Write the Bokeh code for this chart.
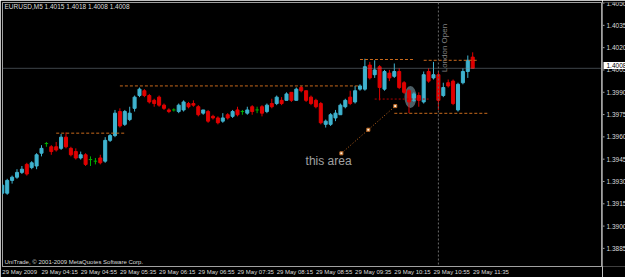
import math
from bokeh.plotting import figure
from bokeh.layouts import row
from bokeh.models import Range1d, FixedTicker, Span, Label, ColumnDataSource
from bokeh.core.properties import value
from bokeh.embed import file_html
from bokeh.resources import INLINE

# ---- data: EURUSD M5, bar 0 = 03:35 ----
opens = [1.3930, 1.3930, 1.3938, 1.3940, 1.3943, 1.3948, 1.3946, 1.3947, 1.3955, 1.3961,
         1.3959, 1.3959, 1.3958, 1.3965, 1.3958, 1.3956, 1.3952, 1.3954, 1.3951, 1.3950,
         1.3952, 1.3950, 1.3963, 1.3966, 1.3981, 1.3973, 1.3976, 1.3983, 1.3991, 1.3994,
         1.3991, 1.3988, 1.3990, 1.3985, 1.3982, 1.3982, 1.3981, 1.3982, 1.3986, 1.3986,
         1.3984, 1.3980, 1.3981, 1.3978, 1.3977, 1.3975, 1.3979, 1.3978, 1.3982, 1.3981,
         1.3980, 1.3984, 1.3982, 1.3984, 1.3981, 1.3986, 1.3986, 1.3988, 1.3988, 1.3993,
         1.3988, 1.3996, 1.3994, 1.3990, 1.3988, 1.3986, 1.3973, 1.3973, 1.3977, 1.3979,
         1.3984, 1.3990, 1.3987, 1.3995, 1.3995, 1.4010, 1.4004, 1.4009, 1.3995, 1.4005,
         1.4003, 1.4006, 1.3999, 1.3994, 1.3988, 1.3991, 1.3987, 1.4006, 1.4002, 1.4004,
         1.3991, 1.3999, 1.4000, 1.3982, 1.3999, 1.4006, 1.4015]
highs = [1.3936, 1.3939, 1.3941, 1.3945, 1.3947, 1.3949, 1.3950, 1.3955, 1.3960, 1.3962,
         1.3960, 1.3962, 1.3967, 1.3968, 1.3959, 1.3958, 1.3956, 1.3955, 1.3953, 1.3952,
         1.3954, 1.3965, 1.3967, 1.3982, 1.3983, 1.3982, 1.3984, 1.3991, 1.3996, 1.3995,
         1.3992, 1.3989, 1.3991, 1.3986, 1.3983, 1.3983, 1.3986, 1.3988, 1.3987, 1.3988,
         1.3985, 1.3982, 1.3982, 1.3979, 1.3978, 1.3980, 1.3980, 1.3982, 1.3984, 1.3982,
         1.3984, 1.3985, 1.3984, 1.3985, 1.3986, 1.3989, 1.3991, 1.3990, 1.3993, 1.3993,
         1.3996, 1.3997, 1.3994, 1.3991, 1.3989, 1.3987, 1.3976, 1.3980, 1.3982, 1.3986,
         1.3989, 1.3994, 1.3997, 1.3998, 1.4014, 1.4012, 1.4013, 1.4010, 1.4007, 1.4007,
         1.4011, 1.4008, 1.4000, 1.3995, 1.3993, 1.3993, 1.4006, 1.4008, 1.4012, 1.4006,
         1.3999, 1.4001, 1.4001, 1.3999, 1.4008, 1.4016, 1.4018]
lows = [1.3929, 1.3929, 1.3936, 1.3939, 1.3942, 1.3941, 1.3945, 1.3945, 1.3953, 1.3959,
        1.3954, 1.3956, 1.3957, 1.3958, 1.3953, 1.3951, 1.3951, 1.3947, 1.3947, 1.3948,
        1.3948, 1.3949, 1.3962, 1.3965, 1.3971, 1.3972, 1.3975, 1.3981, 1.3990, 1.3990,
        1.3986, 1.3984, 1.3984, 1.3982, 1.3980, 1.3981, 1.3980, 1.3981, 1.3983, 1.3984,
        1.3978, 1.3979, 1.3974, 1.3976, 1.3973, 1.3974, 1.3976, 1.3977, 1.3978, 1.3979,
        1.3979, 1.3979, 1.3980, 1.3978, 1.3980, 1.3983, 1.3985, 1.3985, 1.3988, 1.3987,
        1.3988, 1.3993, 1.3987, 1.3985, 1.3983, 1.3973, 1.3971, 1.3972, 1.3975, 1.3979,
        1.3983, 1.3985, 1.3986, 1.3994, 1.3994, 1.4001, 1.4002, 1.3988, 1.3994, 1.4000,
        1.4002, 1.3995, 1.3992, 1.3980, 1.3987, 1.3984, 1.3986, 1.3999, 1.4001, 1.3982,
        1.3990, 1.3996, 1.3985, 1.3981, 1.3998, 1.4002, 1.4008]
closes = [1.3935, 1.3938, 1.3940, 1.3943, 1.3945, 1.3942, 1.3949, 1.3954, 1.3958, 1.3961,
          1.3956, 1.3957, 1.3965, 1.3959, 1.3954, 1.3952, 1.3954, 1.3948, 1.3951, 1.3950,
          1.3949, 1.3963, 1.3966, 1.3980, 1.3972, 1.3981, 1.3980, 1.3990, 1.3995, 1.3991,
          1.3987, 1.3986, 1.3985, 1.3983, 1.3981, 1.3982, 1.3985, 1.3987, 1.3984, 1.3985,
          1.3979, 1.3982, 1.3975, 1.3977, 1.3974, 1.3977, 1.3977, 1.3981, 1.3979, 1.3981,
          1.3982, 1.3981, 1.3982, 1.3980, 1.3985, 1.3984, 1.3990, 1.3986, 1.3992, 1.3988,
          1.3995, 1.3994, 1.3988, 1.3986, 1.3984, 1.3974, 1.3975, 1.3979, 1.3980, 1.3985,
          1.3988, 1.3986, 1.3994, 1.3997, 1.4009, 1.4002, 1.4007, 1.3996, 1.4006, 1.4002,
          1.4006, 1.3996, 1.3993, 1.3987, 1.3992, 1.3988, 1.4004, 1.4000, 1.4004, 1.3988,
          1.3996, 1.3997, 1.3986, 1.3998, 1.4006, 1.4013, 1.4008]

time_label_bars = [0, 8, 16, 24, 32, 40, 48, 56, 64, 72, 80, 88, 96]
time_labels = ["29 May 2009", "29 May 04:15", "29 May 04:55", "29 May 05:35", "29 May 06:15",
               "29 May 06:55", "29 May 07:35", "29 May 08:15", "29 May 08:55", "29 May 09:35",
               "29 May 10:15", "29 May 10:55", "29 May 11:35"]
price_ticks = [1.3885, 1.3900, 1.3915, 1.3930, 1.3945, 1.3960, 1.3975, 1.3990,
               1.4005, 1.4020, 1.4035, 1.4050]

symbol = "EURUSD,M5"
bid = 1.4008

# drawn objects (bar index / price)
level_x0 = [11, 24, 73, 86, 80]
level_x1 = [25, 73, 84, 97, 99]
level_y = [1.39675, 1.39970, 1.40135, 1.40130, 1.39799]
red_level_x = [76, 87]
red_level_y = 1.39888
arrow_x = [69.2, 80.2]
arrow_y = [1.39549, 1.39844]
london_bar = 89
note_x, note_y = 61.9, 1.39504
mark_x, mark_y = 83.3, 1.39901

BULL = "#3fb3cf"
BEAR = "#e00000"
DOJI = "#00b000"
FG = "#dcdcdc"
GRID = "#a0a0a0"
FONT = "Liberation Sans"

# ---------------- main chart ----------------
p = figure(width=602, height=277, output_backend="svg", toolbar_location=None,
           x_range=Range1d(0.041, 122.49), y_range=Range1d(1.388423, 1.404910),
           y_axis_location=None, min_border_left=2, min_border_top=2,
           min_border_right=0, min_border_bottom=10)
p.background_fill_color = "#000000"
p.border_fill_color = "#000000"
p.outline_line_color = GRID
p.grid.visible = False

# bottom time axis: labels start at the bar (left aligned like MT4)
px_per_bar = 4.9
label_ticks = []
for b, t in zip(time_label_bars, time_labels):
    half_w = 0.5 * 6 * (5.781 if t.endswith("2009") else 6.059) / px_per_bar
    label_ticks.append(b + half_w)
xa = p.xaxis[0]
xa.ticker = FixedTicker(ticks=label_ticks)
xa.major_label_overrides = {k: t for k, t in zip(label_ticks, time_labels)}
xa.major_label_text_font = FONT
xa.major_label_text_font_size = "6px"
xa.major_label_text_color = FG
xa.major_label_standoff = 0
xa.major_tick_out = 2
xa.major_tick_in = 0
xa.major_tick_line_color = None
xa.minor_tick_line_color = None
xa.axis_line_color = GRID

# highlight ellipse
p.ellipse(x=[mark_x], y=[mark_y], width=12, height=22, width_units="screen",
          height_units="screen", fill_color="#5f757e", fill_alpha=0.8, line_color=None)

# candles
idx = list(range(len(opens)))
def group(cond):
    sel = [i for i in idx if cond(opens[i], closes[i])]
    return ColumnDataSource(dict(
        x=sel,
        o=[opens[i] for i in sel], c=[closes[i] for i in sel],
        h=[highs[i] for i in sel], l=[lows[i] for i in sel],
        top=[max(opens[i], closes[i]) for i in sel],
        bot=[min(opens[i], closes[i]) for i in sel],
        x0=[i - 0.35 for i in sel], x1=[i + 0.35 for i in sel]))

bull = group(lambda o, c: c > o)
bear = group(lambda o, c: c < o)
doji = group(lambda o, c: c == o)
for src, col in ((bull, BULL), (bear, BEAR)):
    p.segment(x0="x", x1="x", y0="l", y1="h", source=src, line_color=col, line_width=1)
    p.vbar(x="x", top="top", bottom="bot", width=0.62, source=src,
           fill_color=col, line_color=col, line_width=1)
p.segment(x0="x", x1="x", y0="l", y1="h", source=doji, line_color=DOJI, line_width=1)
p.segment(x0="x0", x1="x1", y0="o", y1="o", source=doji, line_color=DOJI, line_width=1)

# horizontal levels
p.segment(x0=level_x0, x1=level_x1, y0=level_y, y1=level_y,
          line_color="#c8691c", line_dash="3 2", line_width=1)
p.segment(x0=[red_level_x[0]], x1=[red_level_x[1]], y0=[red_level_y], y1=[red_level_y],
          line_color="#b00000", line_dash="2 2", line_width=1)

# arrow trendline with handles
p.line(arrow_x, arrow_y, line_color="#c0661e", line_dash="1 2", line_width=1)
p.scatter([arrow_x[0], (arrow_x[0] + arrow_x[1]) / 2, arrow_x[1]],
          [arrow_y[0], (arrow_y[0] + arrow_y[1]) / 2, arrow_y[1]],
          marker="square", size=3, fill_color="#fff4e0", line_color="#c0661e")

# bid line and London open line
p.add_layout(Span(location=bid, dimension="width", line_color="#7d8995",
                  line_dash="1 1", line_width=1))
p.add_layout(Span(location=london_bar, dimension="height", line_color="#6a6a6a",
                  line_dash="2 2", line_width=1))
p.add_layout(Label(x=london_bar, y=1.40055, x_offset=2, text="London Open", angle=math.pi / 2,
                   text_font=FONT, text_font_size="8px", text_color="#808080",
                   text_align="left", text_baseline="top"))

p.add_layout(Label(x=note_x, y=note_y, text="this area", text_font=FONT,
                   text_font_size="12px", text_color="#a0a0a0", text_align="left",
                   text_baseline="middle"))

header = "%s  %.4f %.4f %.4f %.4f" % (symbol, opens[-1], highs[-1], lows[-1], closes[-1])
p.add_layout(Label(x=2, y=260, x_units="screen", y_units="screen", text=header,
                   text_font=FONT, text_font_size="6.5px", text_color=FG,
                   text_align="left", text_baseline="middle"))
p.add_layout(Label(x=2, y=5, x_units="screen", y_units="screen",
                   text="UniTrade, \u00a9 2001-2009 MetaQuotes Software Corp.",
                   text_font=FONT, text_font_size="6px", text_color=FG,
                   text_align="left", text_baseline="middle"))

# ---------------- price scale (right strip) ----------------
# same price-per-pixel mapping as the main frame, strip covers the full 277 px height
s = figure(width=23, height=277, output_backend="svg", toolbar_location=None,
           x_range=Range1d(0, 23), y_range=Range1d(1.387282, 1.405038),
           x_axis_location=None, y_axis_location=None,
           min_border_left=0, min_border_right=0, min_border_top=0, min_border_bottom=0)
s.background_fill_color = "#000000"
s.border_fill_color = "#000000"
s.outline_line_color = None
s.grid.visible = False
s.segment(x0=0, x1=2, y0=price_ticks, y1=price_ticks, line_color=GRID, line_width=1)
s.text(x=4, y=price_ticks, text=["%.4f" % t for t in price_ticks],
       text_font=value(FONT), text_font_size="6.5px", text_color=FG,
       text_align="left", text_baseline="middle")
s.rect(x=12, y=[bid], width=22, height=7, height_units="screen",
       fill_color="#ffffff", line_color=None)
s.text(x=4, y=[bid], text=["%.4f" % bid], text_font=value(FONT), text_font_size="6.5px",
       text_color="#000000", text_align="left", text_baseline="middle")

layout = row(p, s)
open("out.html", "w").write(file_html(layout, INLINE))
